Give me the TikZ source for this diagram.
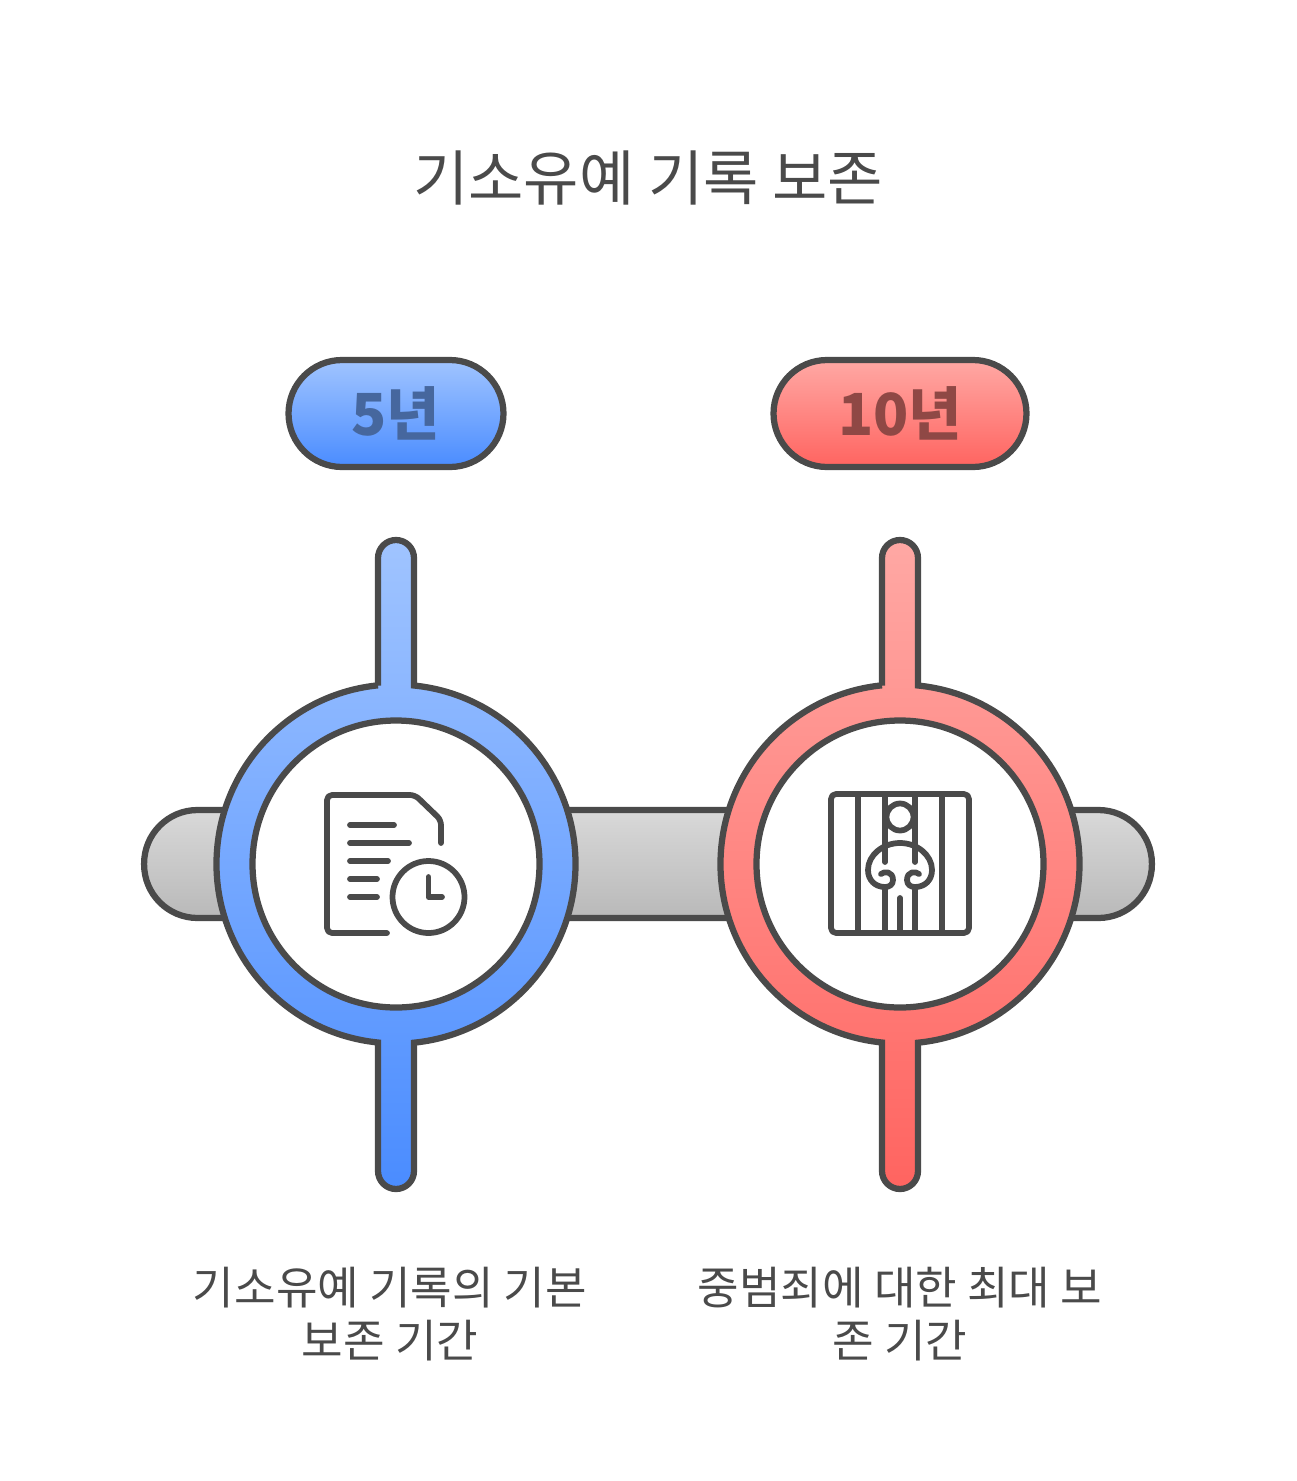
\documentclass[tikz,border=0pt]{standalone}
\usepackage{fontspec}
\setmainfont{Noto Sans CJK KR}
\usepackage{xcolor}
\usetikzlibrary{positioning,calc}
\definecolor{inkgray}{HTML}{4A4A4A}
\definecolor{bluetop}{HTML}{A0C4FF}
\definecolor{bluebot}{HTML}{4A8CFF}
\definecolor{redtop}{HTML}{FFA8A4}
\definecolor{redbot}{HTML}{FF6460}
\definecolor{bluetext}{HTML}{46679E}
\definecolor{redtext}{HTML}{8F4845}
\begin{document}
\begin{tikzpicture}[x=0.02cm,y=0.02cm,
  outline/.style={draw=inkgray,line width=0.125cm},
  pill/.style={outline,rounded corners=1.07cm,minimum height=2.14cm,font=\fontsize{33}{36}\selectfont\bfseries,inner sep=0pt},
  caption/.style={text=inkgray,align=center,font=\fontsize{25.7}{30.6}\selectfont},
  icon/.style={draw=inkgray,line width=0.115cm,line cap=round,line join=round}]
\useasboundingbox (0,0) rectangle (1296,-1481);
\node[caption,font=\fontsize{34.2}{38}\selectfont] (title) at (648,-178) {기소유예 기록 보존};
% bar behind the two rings
\node[outline,top color=gray!30,bottom color=gray!55,rounded corners=1.07cm,minimum width=20.16cm,minimum height=2.16cm] (bar) at (648,-864) {};
\node[pill,top color=bluetop,bottom color=bluebot,text=bluetext,minimum width=4.3cm] (five) at (396,-413.5) {5년};
\node[pill,top color=redtop,bottom color=redbot,text=redtext,minimum width=5.06cm] (ten) at (900,-413.5) {10년};
\foreach \cx/\ctop/\cbot in {396/bluetop/bluebot,900/redtop/redbot}{
  \draw[outline,top color=\ctop,bottom color=\cbot] (\cx-18,-685.5) -- (\cx-18,-558) arc[start angle=180,end angle=0,radius=18]
    -- (\cx+18,-685.5) arc[start angle=84.25,end angle=-84.25,radius=179.5]
    -- (\cx+18,-1171) arc[start angle=0,end angle=-180,radius=18]
    -- (\cx-18,-1042.5) arc[start angle=-95.75,end angle=-264.25,radius=179.5] -- cycle;
  \draw[outline,fill=white] (\cx,-864) circle[radius=143.5];
}
% document and clock
\draw[icon,rounded corners=0.1cm] (387,-933) -- (327,-933) -- (327,-795) -- (415,-795) -- (441,-820) -- (441,-843);
\draw[icon] (350,-825) -- (394,-825);
\draw[icon] (350,-843) -- (409,-843);
\draw[icon] (350,-861) -- (388,-861);
\draw[icon] (350,-879) -- (377,-879);
\draw[icon] (350,-897) -- (377,-897);
\draw[icon] (428.5,-897) circle[radius=36];
\draw[icon] (428.5,-877) -- (428.5,-897) -- (442,-897);
% prisoner behind bars
\draw[icon,rounded corners=0.1cm] (831,-794) rectangle (969,-933);
\draw[icon] (858,-794) -- (858,-933);
\draw[icon] (942,-794) -- (942,-933);
\draw[icon] (885,-794) -- (885,-862);
\draw[icon] (915,-794) -- (915,-862);
\draw[icon] (885,-887) -- (885,-933);
\draw[icon] (915,-887) -- (915,-933);
\draw[icon] (900,-817) circle[radius=13.5];
\draw[icon] (900,-898) -- (900,-933);
\draw[icon] (881,-874) .. controls (884,-871) and (893,-871) .. (893,-880)
  .. controls (893,-885) and (889,-887) .. (885,-887)
  .. controls (875,-887) and (868,-880) .. (868,-870)
  .. controls (868,-855) and (883,-843) .. (900,-843)
  .. controls (917,-843) and (932,-855) .. (932,-870)
  .. controls (932,-880) and (925,-887) .. (915,-887)
  .. controls (911,-887) and (907,-885) .. (907,-880)
  .. controls (907,-871) and (916,-871) .. (919,-874);
\node[caption] (leftnote) at (390,-1314) {기소유예 기록의 기본\\보존 기간};
\node[caption] (rightnote) at (900,-1314) {중범죄에 대한 최대 보\\존 기간};
\end{tikzpicture}
\end{document}
